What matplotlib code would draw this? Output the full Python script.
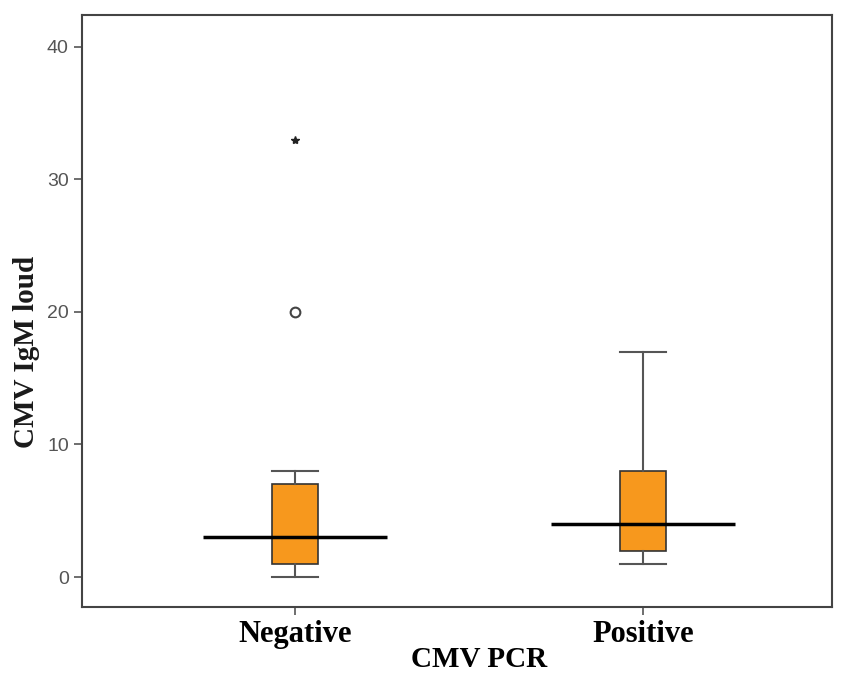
import numpy as np
import matplotlib.pyplot as plt

groups = ["Negative", "Positive"]
medians = [3, 4]
q1 = [1, 2]
q3 = [7, 8]
whis_lo = [0, 1]
whis_hi = [8, 17]
circle_outliers = [[20], []]
star_outliers = [[33], []]
yticks = [0, 10, 20, 30, 40]

fig = plt.figure(figsize=(8.47, 6.76), dpi=100)
ax = fig.add_axes([0.0968, 0.102, 0.8855, 0.876])

pos = [1, 2]
stats = []
for i in range(len(groups)):
    stats.append({"med": medians[i], "q1": q1[i], "q3": q3[i],
                  "whislo": whis_lo[i], "whishi": whis_hi[i],
                  "fliers": circle_outliers[i], "label": groups[i]})

ax.bxp(stats, positions=pos, widths=0.132, patch_artist=True,
       boxprops=dict(facecolor="#F7981D", edgecolor="#333333", linewidth=1.2),
       whiskerprops=dict(color="#555555", linewidth=1.5),
       capprops=dict(color="#555555", linewidth=1.5),
       capwidths=0.132,
       medianprops=dict(linewidth=0),
       flierprops=dict(marker="o", markerfacecolor="none", markeredgecolor="#444444",
                       markersize=7, markeredgewidth=1.5))

# long median bars
ax.hlines(medians, np.array(pos) - 0.265, np.array(pos) + 0.265,
          colors="black", linewidth=2.5, zorder=5)

for i, s in enumerate(star_outliers):
    if s:
        ax.plot([pos[i]] * len(s), s, marker="*", color="#222222",
                markersize=6, linestyle="none")

ax.set_xlim(0.388, 2.543)
ax.set_ylim(-2.26, 42.4)
ax.set_yticks(yticks)
ax.set_xticks(pos)
ax.set_xticklabels(groups, family="Liberation Serif", fontweight="bold", fontsize=22)
ax.tick_params(axis="y", labelsize=14, labelcolor="#555555", color="#555555",
               length=6, width=1.2)
ax.tick_params(axis="x", color="#555555", length=6, width=1.2, pad=3)
for lab in ax.get_yticklabels():
    lab.set_family("Liberation Sans")

for sp in ax.spines.values():
    sp.set_color("#444444")
    sp.set_linewidth(1.5)

ax.set_xlabel("CMV PCR", family="Liberation Serif", fontweight="bold",
              fontsize=21)
ax.xaxis.set_label_coords(0.53, -0.066)
ax.set_ylabel("CMV IgM loud", family="Liberation Serif", fontweight="bold",
              fontsize=21, color="#1a1a1a")
ax.yaxis.set_label_coords(-0.056, 0.43)

fig.savefig("out.png", dpi=100)
